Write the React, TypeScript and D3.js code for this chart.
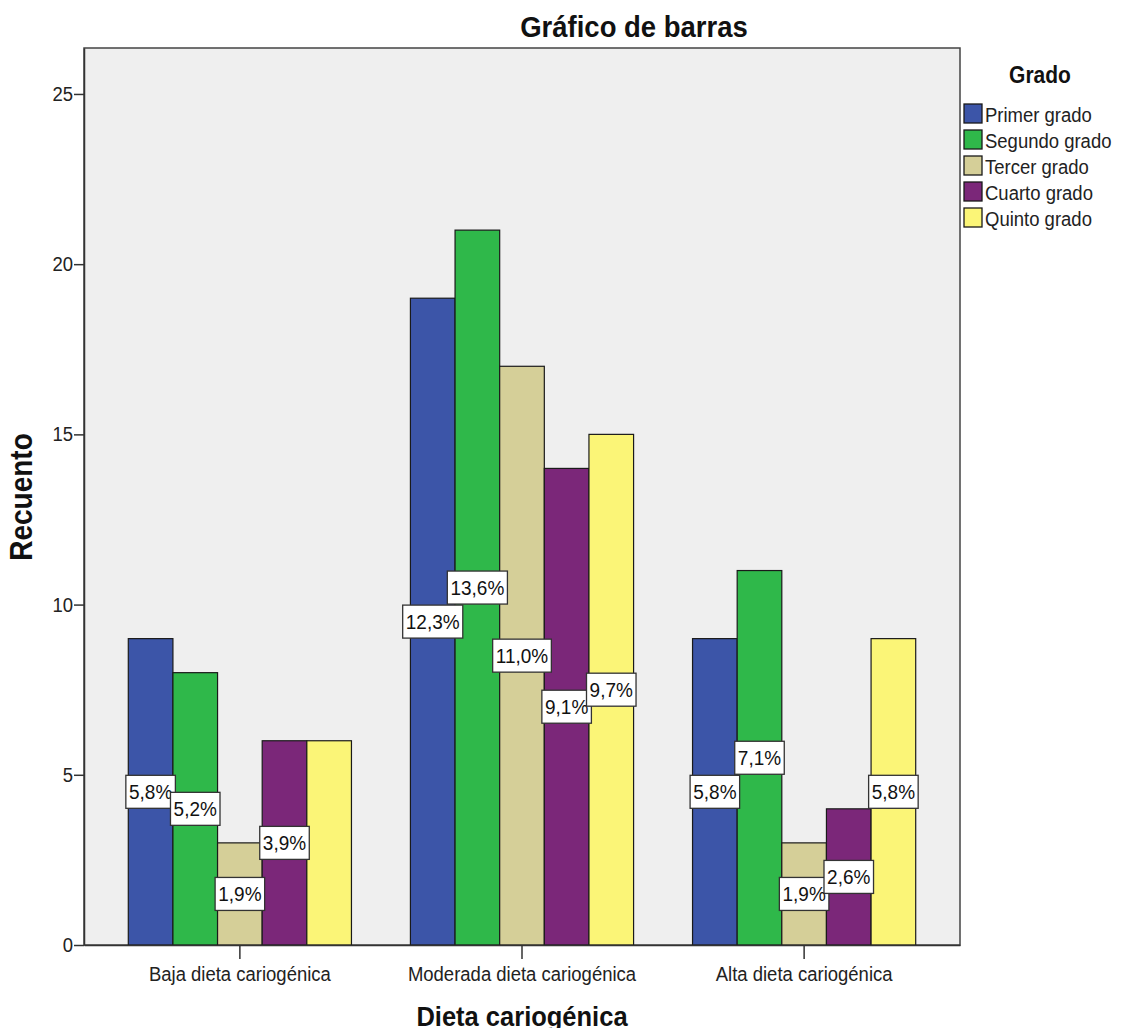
import React, { useEffect, useRef } from "react";
import * as d3 from "d3";

const categories = ["Baja dieta cariogénica", "Moderada dieta cariogénica", "Alta dieta cariogénica"];
const grades = ["Primer grado", "Segundo grado", "Tercer grado", "Cuarto grado", "Quinto grado"];
const gradeColors = ["#3c55a8", "#2fb84a", "#d5cf98", "#7b2779", "#fbf577"];

// counts per grade, one value for each category
const primer = [9, 19, 9];
const segundo = [8, 21, 11];
const tercer = [3, 17, 3];
const cuarto = [6, 14, 4];
const quinto = [6, 15, 9];

// percentage labels (null = label hidden in the original)
const primerPct = ["5,8%", "12,3%", "5,8%"];
const segundoPct = ["5,2%", "13,6%", "7,1%"];
const tercerPct = ["1,9%", "11,0%", "1,9%"];
const cuartoPct = ["3,9%", "9,1%", "2,6%"];
const quintoPct = [null, "9,7%", "5,8%"];

const yTicks = [0, 5, 10, 15, 20, 25];

const series = [primer, segundo, tercer, cuarto, quinto];
const labels = [primerPct, segundoPct, tercerPct, cuartoPct, quintoPct];

const W = 1125;
const H = 1036;
const m = { left: 84, right: 960, top: 48, bottom: 945 };
const font = "'Liberation Sans', Arial, sans-serif";
const SY = 1.1; // text in the original is a bit taller than wide

type Sel = d3.Selection<any, any, any, any>;
const addText = (parent: Sel, x: number, y: number, txt: string, size: number, opts: any = {}) => {
  const g = parent.append("g").attr("transform", `translate(${x},${y}) ${opts.rotate ? `rotate(${opts.rotate})` : ""} scale(1,${SY})`);
  return g.append("text")
    .attr("text-anchor", opts.anchor || "start")
    .attr("font-family", font)
    .attr("font-weight", opts.bold ? "bold" : "normal")
    .attr("font-size", size)
    .attr("fill", opts.fill || "#1a1a1a")
    .text(txt);
};

const App = () => {
  const ref = useRef<SVGSVGElement>(null);

  useEffect(() => {
    if (!ref.current) return;
    const svg = d3.select(ref.current);
    svg.selectAll("*").remove();

    const x = d3.scaleBand<string>().domain(categories).range([m.left, m.right]).paddingInner(0.209).paddingOuter(0.157);
    const xs = d3.scaleBand<string>().domain(grades).range([0, x.bandwidth()]);
    const y = d3.scaleLinear().domain([0, 26.35]).range([m.bottom, m.top]);

    // plot background
    svg.append("rect")
      .attr("x", m.left).attr("y", m.top)
      .attr("width", m.right - m.left).attr("height", m.bottom - m.top)
      .attr("fill", "#efefef").attr("stroke", "#444").attr("stroke-width", 1.5);

    // bars
    const g = svg.append("g");
    series.forEach((vals, si) => {
      g.selectAll(null)
        .data(vals)
        .join("rect")
        .attr("x", (_, i) => (x(categories[i]) as number) + (xs(grades[si]) as number))
        .attr("y", (d) => y(d))
        .attr("width", xs.bandwidth())
        .attr("height", (d) => y(0) - y(d))
        .attr("fill", gradeColors[si])
        .attr("stroke", "#1a1a1a")
        .attr("stroke-width", 1.2);
    });

    // axes
    const yAxis = svg.append("g").attr("transform", `translate(${m.left},0)`)
      .call(d3.axisLeft(y).tickValues(yTicks).tickSize(10).tickSizeOuter(0).tickFormat(() => ""));
    yAxis.select(".domain").attr("stroke", "#333").attr("stroke-width", 1.5);
    yAxis.selectAll(".tick line").attr("stroke", "#333").attr("stroke-width", 1.5);
    yTicks.forEach((t) => addText(svg, m.left - 11, y(t) + 7, String(t), 18.5, { anchor: "end", fill: "#222" }));

    const xAxis = svg.append("g").attr("transform", `translate(0,${m.bottom})`)
      .call(d3.axisBottom(x).tickSize(14).tickSizeOuter(0).tickFormat(() => ""));
    xAxis.select(".domain").attr("stroke", "#333").attr("stroke-width", 1.5);
    xAxis.selectAll(".tick line").attr("stroke", "#333").attr("stroke-width", 1.5);
    categories.forEach((c) => addText(svg, (x(c) as number) + x.bandwidth() / 2, 981, c, 18.5, { anchor: "middle", fill: "#222" }));

    // percentage labels
    const lg = svg.append("g");
    labels.forEach((row, si) => {
      row.forEach((txt, i) => {
        if (!txt) return;
        const cx = (x(categories[i]) as number) + (xs(grades[si]) as number) + xs.bandwidth() / 2;
        const cy = y(series[si][i] / 2);
        const box = lg.append("rect");
        const t = addText(lg, cx, cy + 7.5, txt, 19, { anchor: "middle", fill: "#111" });
        const bb = (t.node() as SVGTextElement).getBBox();
        box.attr("x", cx - bb.width / 2 - 3).attr("y", cy - 16.5)
          .attr("width", bb.width + 6).attr("height", 33)
          .attr("fill", "#fff").attr("stroke", "#333").attr("stroke-width", 1.3);
      });
    });

    // titles
    addText(svg, 634, 37, "Gráfico de barras", 27.5, { anchor: "middle", bold: true, fill: "#111" });
    addText(svg, (m.left + m.right) / 2, 1026, "Dieta cariogénica", 25.5, { anchor: "middle", bold: true, fill: "#111" });
    addText(svg, 32, 497, "Recuento", 28, { anchor: "middle", bold: true, fill: "#111", rotate: -90 });

    // legend
    const leg = svg.append("g");
    addText(leg, 1040, 83, "Grado", 21, { anchor: "middle", bold: true, fill: "#111" });
    grades.forEach((gr, i) => {
      const yy = 104 + i * 26;
      leg.append("rect").attr("x", 964).attr("y", yy).attr("width", 18).attr("height", 19)
        .attr("fill", gradeColors[i]).attr("stroke", "#1a1a1a").attr("stroke-width", 1.3);
      addText(leg, 985, yy + 18, gr, 18.5, { fill: "#222" });
    });
  }, []);

  return <svg ref={ref} width={W} height={H} style={{ display: "block", margin: -8 }} />;
};

export default App;
